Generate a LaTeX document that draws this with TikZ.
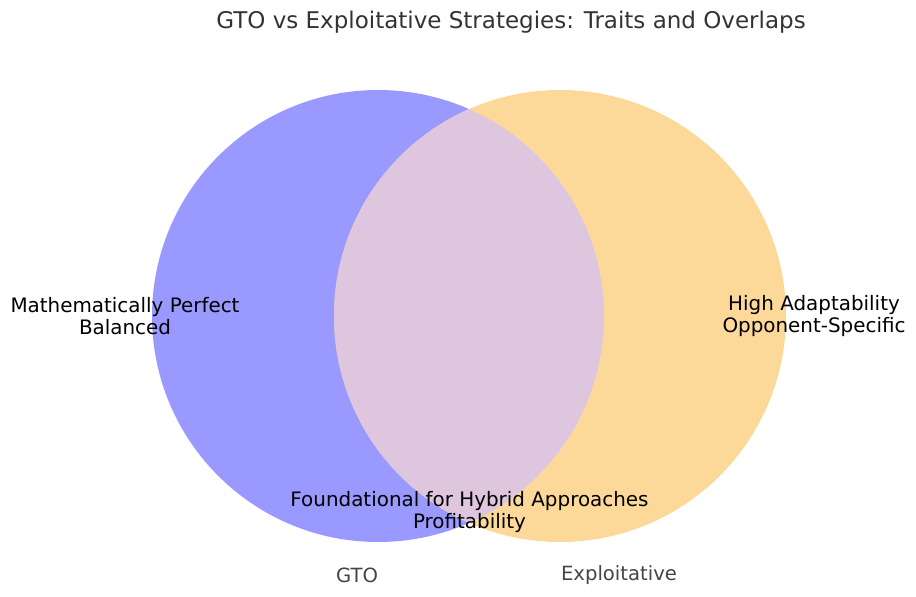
\documentclass[tikz,border=0pt]{standalone}
\usepackage{fontspec}
\setmainfont{DejaVu Sans}
\definecolor{gtofill}{RGB}{153,153,255}
\definecolor{expfill}{RGB}{253,217,153}
\definecolor{bothfill}{RGB}{223,198,223}
\definecolor{titlegray}{RGB}{51,51,51}
\definecolor{setgray}{RGB}{68,68,68}
\begin{document}
\begin{tikzpicture}[x=1pt,y=-1pt,
  setcircle/.style={circle,inner sep=0pt,minimum size=452pt,draw=none},
  trait/.style={align=center,inner sep=0pt,font=\fontsize{19.9}{22}\selectfont,text=black},
  setlabel/.style={inner sep=0pt,font=\fontsize{19.6}{22}\selectfont,text=setgray},
  titlestyle/.style={inner sep=0pt,font=\fontsize{23}{27}\selectfont,text=titlegray}]
\useasboundingbox (0,0) rectangle (916,597);
\node[setcircle,fill=gtofill] (gto) at (378,316) {};
\node[setcircle,fill=expfill] (exp) at (560,316) {};
\begin{scope}
  \clip (378,316) circle (226);
  \fill[bothfill] (560,316) circle (226);
\end{scope}
\node[titlestyle] (title) at (511,22) {GTO vs Exploitative Strategies: Traits and Overlaps};
\node[trait] (gtotraits) at (125,316) {Mathematically Perfect\\Balanced};
\node[trait] (exptraits) at (814,316) {High Adaptability\\Opponent-Specific};
\node[trait] (bothtraits) at (469.5,512) {Foundational for Hybrid Approaches\\Profitability};
\node[setlabel] (gtolabel) at (357,575) {GTO};
\node[setlabel] (explabel) at (619,575) {Exploitative};
\end{tikzpicture}
\end{document}
